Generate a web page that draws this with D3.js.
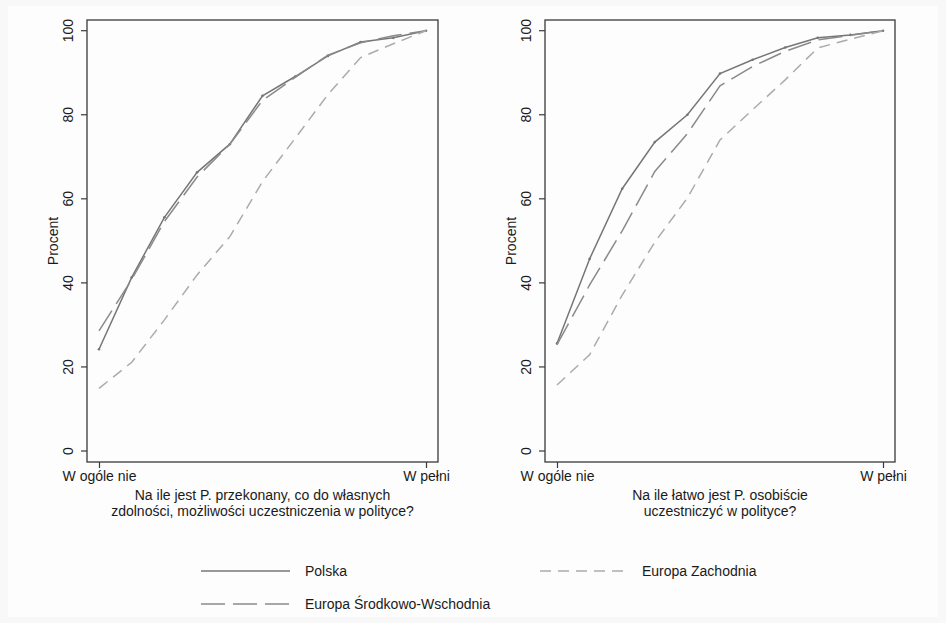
<!DOCTYPE html>
<html>
<head>
<meta charset="utf-8">
<script src="https://cdn.jsdelivr.net/npm/d3@7"></script>
<style>
  html, body { margin: 0; padding: 0; background: #f8f8f8; }
  svg { display: block; font-family: "Liberation Sans", Arial, Helvetica, sans-serif; }
</style>
</head>
<body>
<svg id="chart"></svg>
<script>
// dane (skala 0..10, procent skumulowany)
const steps = d3.range(11)
const xTickLabels = ['W ogóle nie', 'W pełni']
const yTicks = [0, 20, 40, 60, 80, 100]

const polskaLeft = [24.2, 41.3, 55.6, 66.3, 73.0, 84.5, 89.1, 94.0, 97.3, 98.3, 100]
const eswLeft    = [28.6, 40.8, 54.6, 65.2, 73.0, 83.4, 88.9, 94.2, 97.1, 98.8, 100]
const ezLeft     = [14.9, 21.1, 31.2, 41.9, 51.0, 64.1, 74.4, 84.8, 93.6, 96.9, 100]

const polskaRight = [25.6, 45.7, 62.4, 73.5, 80.0, 89.8, 93.1, 96.0, 98.3, 99.0, 100]
const eswRight    = [25.3, 39.5, 52.4, 66.5, 75.5, 86.9, 91.5, 95.1, 97.8, 98.9, 100]
const ezRight     = [15.7, 22.9, 37.1, 49.7, 60.2, 74.0, 81.2, 88.3, 95.9, 98.0, 100]

const titlesLeft = ['Na ile jest P. przekonany, co do własnych', 'zdolności, możliwości uczestniczenia w polityce?']
const titlesRight = ['Na ile łatwo jest P. osobiście', 'uczestniczyć w polityce?']

const seriesNames = ['Polska', 'Europa Środkowo-Wschodnia', 'Europa Zachodnia']
const seriesStyle = {
  'Polska': {color: '#767676', dash: null},
  'Europa Środkowo-Wschodnia': {color: '#8a8a8a', dash: '24,8'},
  'Europa Zachodnia': {color: '#ababab', dash: '11,7'}
}

const width = 946
const height = 623

const svg = d3.select('#chart').attr('width', width).attr('height', height)

svg.append('rect').attr('x', 8).attr('y', 6).attr('width', 930).attr('height', 611)
  .attr('fill', '#fdfdfd')

function panel(left, right, data, titles) {
  const top = 20, bottom = 462
  const x = d3.scaleLinear().domain([0, 10]).range([left + 12, right - 12])
  const y = d3.scaleLinear().domain([0, 100]).range([451, 30.7])
  const g = svg.append('g')

  // linie
  const line = d3.line().x((d, i) => x(steps[i])).y(d => y(d))
  data.forEach((vals, k) => {
    const st = seriesStyle[seriesNames[k]]
    g.append('path').datum(vals).attr('d', line)
      .attr('fill', 'none').attr('stroke', st.color).attr('stroke-width', 1.5)
      .attr('stroke-dasharray', st.dash)
    if (k === 0) {
      g.selectAll(null).data(vals).enter().append('circle')
        .attr('cx', (d, i) => x(steps[i])).attr('cy', d => y(d))
        .attr('r', 1.3).attr('fill', st.color)
    }
  })

  // ramka
  g.append('rect').attr('x', left).attr('y', top).attr('width', right - left).attr('height', bottom - top)
    .attr('fill', 'none').attr('stroke', '#3a3a3a').attr('stroke-width', 1.3)

  // oś Y
  const yAxis = d3.axisLeft(y).tickValues(yTicks).tickSize(6).tickPadding(5)
  const ya = g.append('g').attr('transform', `translate(${left},0)`).call(yAxis)
  ya.select('.domain').remove()
  ya.selectAll('.tick').attr('transform', 'translate(0,0)')
  ya.selectAll('.tick line').attr('y1', d => y(d)).attr('y2', d => y(d))
    .attr('stroke', '#3a3a3a').attr('stroke-width', 1.2)
  ya.selectAll('.tick text').attr('font-size', 14).attr('fill', '#1a1a1a')
    .attr('x', -19).attr('dy', 0).attr('y', d => y(d))
    .attr('transform', d => `rotate(-90, ${-19}, ${y(d)})`)
    .attr('text-anchor', 'middle').attr('dominant-baseline', 'central')

  g.append('text').attr('transform', `translate(${left - 34},${(top + bottom) / 2}) rotate(-90)`)
    .attr('text-anchor', 'middle').attr('font-size', 14).attr('fill', '#1a1a1a')
    .attr('dominant-baseline', 'central').text('Procent')

  // oś X
  const xAxis = d3.axisBottom(x).tickValues([0, 10]).tickFormat((d, i) => xTickLabels[i]).tickSize(6).tickPadding(3)
  const xa = g.append('g').attr('transform', `translate(0,${bottom})`).call(xAxis)
  xa.select('.domain').remove()
  xa.selectAll('line').attr('stroke', '#3a3a3a').attr('stroke-width', 1.2)
  xa.selectAll('text').attr('font-size', 14).attr('fill', '#1a1a1a')

  g.selectAll(null).data(titles).enter().append('text')
    .attr('x', (left + right) / 2).attr('y', (d, i) => 500 + i * 16)
    .attr('text-anchor', 'middle').attr('font-size', 14).attr('fill', '#1a1a1a')
    .text(d => d)
}

panel(87, 438, [polskaLeft, eswLeft, ezLeft], titlesLeft)
panel(545, 895, [polskaRight, eswRight, ezRight], titlesRight)

// legenda
const legendPos = [
  {x: 201, y: 571},
  {x: 201, y: 604},
  {x: 540, y: 571}
]
const lg = svg.append('g')
seriesNames.forEach((name, k) => {
  const st = seriesStyle[name]
  const p = legendPos[k]
  lg.append('line').attr('x1', p.x).attr('x2', p.x + 89).attr('y1', p.y).attr('y2', p.y)
    .attr('stroke', st.color).attr('stroke-width', 1.5).attr('stroke-dasharray', st.dash)
  lg.append('text').attr('x', p.x + (k === 2 ? 102 : 104)).attr('y', p.y).attr('dominant-baseline', 'central')
    .attr('font-size', 14).attr('fill', '#1a1a1a').text(name)
})
</script>
</body>
</html>
